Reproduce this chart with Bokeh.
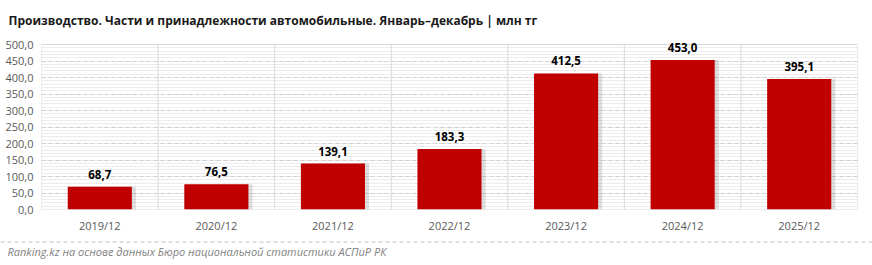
from bokeh.plotting import figure
from bokeh.models import FixedTicker, CustomJSTickFormatter, ColumnDataSource, Range1d
from bokeh.layouts import column
from bokeh.core.properties import value
from bokeh.embed import file_html
from bokeh.resources import INLINE

categories = ["2019/12", "2020/12", "2021/12", "2022/12", "2023/12", "2024/12", "2025/12"]
values = [68.7, 76.5, 139.1, 183.3, 412.5, 453.0, 395.1]
labels = ["68,7", "76,5", "139,1", "183,3", "412,5", "453,0", "395,1"]
y_ticks = [0, 50, 100, 150, 200, 250, 300, 350, 400, 450, 500]
title_text = "Производство. Части и принадлежности автомобильные. Январь–декабрь | млн тг"
source_text = "Ranking.kz на основе данных Бюро национальной статистики АСПиР РК"

FONT = "Open Sans"
W = 872
GRID = "#d9d9d9"


def blank(h):
    f = figure(width=W, height=h, output_backend="svg", toolbar_location=None,
               x_range=Range1d(0, W), y_range=Range1d(h, 0),
               x_axis_type=None, y_axis_type=None,
               min_border=0, min_border_left=0, min_border_right=0,
               min_border_top=0, min_border_bottom=0)
    f.grid.visible = False
    f.outline_line_color = None
    f.frame_align = False
    return f


# title strip (page y 0..30)
t = blank(30)
t.text(x=[8], y=[20], text=[title_text], text_baseline="middle", text_align="left",
       text_font=value(FONT), text_font_size="12px", text_font_style="bold", text_color="#1a1a1a")

# main chart (page y 30..240); value axis 0..500 spans page y 209..44,
# the range reaches a little higher so that the top value label is not clipped
ymax = y_ticks[-1]
y_end = ymax * 178 / 165
centers = [i + 0.5 for i in range(len(categories))]
bounds = list(range(len(categories) + 1))
src = ColumnDataSource(dict(x=centers, top=values, lab=labels,
                            xs=[c + 0.035 for c in centers]))

p = figure(width=W, height=210, output_backend="svg", toolbar_location=None,
           x_range=Range1d(0, len(categories)), y_range=Range1d(0, y_end),
           min_border_left=41, min_border_right=15, min_border_bottom=31, min_border_top=1)
p.frame_align = False
p.outline_line_color = None

p.ygrid.grid_line_color = "#d0d0d0"
p.ygrid.grid_line_dash = "4 3"
p.ygrid.minor_grid_line_color = "#ececec"
p.xgrid.visible = False

# category separators and frame sides, bounded to the value axis
p.segment(x0=bounds, y0=[y_ticks[0]] * len(bounds), x1=bounds, y1=[ymax] * len(bounds),
          line_color=GRID, line_width=1)
p.segment(x0=[bounds[0], bounds[0]], y0=[y_ticks[0], ymax], x1=[bounds[-1], bounds[-1]],
          y1=[y_ticks[0], ymax], line_color=GRID, line_width=1)

p.vbar(x="xs", top="top", width=0.55, bottom=0, source=src, fill_color="#000000",
       fill_alpha=0.12, line_color=None)
p.vbar(x="x", top="top", width=0.55, bottom=0, source=src, fill_color="#c00000",
       line_color=None)
p.text(x="x", y="top", text="lab", source=src, text_align="center", text_baseline="bottom",
       y_offset=-8, text_font=value(FONT), text_font_size="11.5px", text_font_style="bold",
       text_color="#000000")

p.yaxis.ticker = FixedTicker(ticks=y_ticks, minor_ticks=list(range(0, ymax + 1, 10)))
p.yaxis.formatter = CustomJSTickFormatter(code="return tick.toFixed(1).replace('.', ',');")
p.xaxis.ticker = FixedTicker(ticks=centers)
p.xaxis.major_label_overrides = {c: cat for c, cat in zip(centers, categories)}
for ax in (p.xaxis, p.yaxis):
    ax.major_tick_line_color = None
    ax.minor_tick_line_color = None
    ax.major_tick_out = 0
    ax.major_tick_in = 0
    ax.minor_tick_out = 0
    ax.minor_tick_in = 0
    ax.axis_line_color = None
    ax.major_label_text_font = FONT
    ax.major_label_text_font_size = "11px"
    ax.major_label_text_color = "#595959"
p.xaxis.major_label_standoff = 8
p.yaxis.major_label_standoff = 8

# footer strip (page y 240..265)
f = blank(25)
f.line(x=[0, W], y=[1.5, 1.5], line_color="#c0c0c0", line_dash="4 3", line_width=1)
f.text(x=[7], y=[11], text=[source_text], text_baseline="middle", text_align="left",
       text_font=value(FONT), text_font_size="11px", text_font_style="italic", text_color="#7f7f7f")

layout = column(t, p, f, spacing=0)
open("out.html", "w").write(file_html(layout, INLINE))
